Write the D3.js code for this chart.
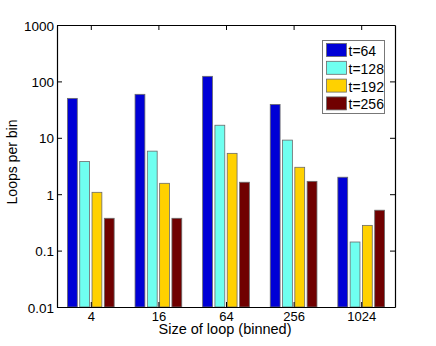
<!DOCTYPE html>
<html>
<head>
<meta charset="utf-8">
<script src="https://cdn.jsdelivr.net/npm/d3@7"></script>
<style>
  body { margin: 0; background: #fff; }
  svg { font-family: "Liberation Sans", Arial, Helvetica, sans-serif; }
</style>
</head>
<body>
<svg id="chart"></svg>
<script>
// data
const sizes = ["4", "16", "64", "256", "1024"];
const seriesNames = ["t=64", "t=128", "t=192", "t=256"];
const t64 = [50, 59, 123, 39, 2.0];
const t128 = [3.8, 5.8, 16.7, 9.1, 0.142];
const t192 = [1.08, 1.56, 5.3, 3.0, 0.28];
const t256 = [0.374, 0.374, 1.63, 1.69, 0.52];
const yTicks = [0.01, 0.1, 1, 10, 100, 1000];
const yTickLabels = ["0.01", "0.1", "1", "10", "100", "1000"];

const colors = ["#0000d6", "#6ffff0", "#ffd100", "#700000"];
const allSeries = [t64, t128, t192, t256];

const width = 436;
const height = 346;
const plotLeft = 57, plotRight = 395, plotTop = 25, plotBottom = 307;

const svg = d3.select("#chart")
    .attr("width", width)
    .attr("height", height);

// matlab style: groups at 1..5, xlim 0.5..5.5
const xScale = d3.scaleLinear()
    .domain([0.5, sizes.length + 0.5])
    .range([plotLeft, plotRight]);

const yScale = d3.scaleLog()
    .domain([0.01, 1000])
    .range([plotBottom, plotTop]);

// bar geometry in data units (like matlab's grouped bar)
const groupWidth = Math.min(0.8, seriesNames.length / (seriesNames.length + 1.5));
const barPitch = groupWidth / seriesNames.length;
const barWidth = barPitch * 0.8;

//Drawing the bars
allSeries.forEach((vals, s) => {
    svg.append("g")
        .selectAll("rect")
        .data(vals)
        .enter()
        .append("rect")
        .attr("x", (d, i) => {
            const c = (i + 1) + (s - (seriesNames.length - 1) / 2) * barPitch;
            return xScale(c - barWidth / 2);
        })
        .attr("width", xScale(barWidth) - xScale(0))
        .attr("y", (d) => yScale(d))
        .attr("height", (d) => plotBottom - yScale(d))
        .attr("fill", colors[s])
        .attr("stroke", "#6a6a6a")
        .attr("stroke-width", 0.8);
});

//Axes, ticks pointing inward like matlab
const tickPos = sizes.map((d, i) => i + 1);

const xAxis = d3.axisBottom(xScale)
    .tickValues(tickPos)
    .tickFormat((d, i) => sizes[i])
    .tickSizeInner(-5)
    .tickSizeOuter(0)
    .tickPadding(5);

const xAxisTop = d3.axisTop(xScale)
    .tickValues(tickPos)
    .tickFormat("")
    .tickSizeInner(-5)
    .tickSizeOuter(0);

const yAxis = d3.axisLeft(yScale)
    .tickValues(yTicks)
    .tickFormat((d, i) => yTickLabels[i])
    .tickSizeInner(-5)
    .tickSizeOuter(0)
    .tickPadding(3);

const yAxisRight = d3.axisRight(yScale)
    .tickValues(yTicks)
    .tickFormat("")
    .tickSizeInner(-5)
    .tickSizeOuter(0);

const styleAxis = (g) => {
    g.selectAll("path.domain").attr("stroke", "#000").attr("stroke-width", 1.2);
    g.selectAll(".tick line").attr("stroke", "#000").attr("stroke-width", 1);
    g.selectAll(".tick text").attr("fill", "#000").style("font-size", "13.5px");
    g.attr("font-family", null);
};

const xg = svg.append("g")
    .attr("transform", "translate(0," + plotBottom + ")")
    .call(xAxis)
    .call(styleAxis);
xg.selectAll(".tick text").style("font-size", "13px");

svg.append("g")
    .attr("transform", "translate(0," + plotTop + ")")
    .call(xAxisTop)
    .call(styleAxis);

const yg = svg.append("g")
    .attr("transform", "translate(" + plotLeft + ",0)")
    .call(yAxis)
    .call(styleAxis);
yg.selectAll(".tick text").attr("dy", "0.38em");

svg.append("g")
    .attr("transform", "translate(" + plotRight + ",0)")
    .call(yAxisRight)
    .call(styleAxis);

//Axis labels
svg.append("text")
    .attr("x", (plotLeft + plotRight) / 2 - 1)
    .attr("y", 334)
    .attr("text-anchor", "middle")
    .style("font-size", "14.5px")
    .text("Size of loop (binned)");

svg.append("text")
    .attr("transform", "translate(17," + 162 + ") rotate(-90)")
    .attr("text-anchor", "middle")
    .style("font-size", "14px")
    .text("Loops per bin");

//Legend
const legend = svg.append("g")
    .attr("transform", "translate(322.5,40.5)");

legend.append("rect")
    .attr("width", 62)
    .attr("height", 73)
    .attr("fill", "#fff")
    .attr("stroke", "#777")
    .attr("stroke-width", 1);

const rows = legend.selectAll("g.row")
    .data(seriesNames)
    .enter()
    .append("g")
    .attr("class", "row")
    .attr("transform", (d, i) => "translate(4," + (3 + i * 17.8) + ")");

rows.append("rect")
    .attr("width", 20)
    .attr("height", 13)
    .attr("fill", (d, i) => colors[i])
    .attr("stroke", "#6a6a6a")
    .attr("stroke-width", 0.8);

rows.append("text")
    .attr("x", 22)
    .attr("y", 12.5)
    .style("font-size", "14px")
    .text((d) => d);
</script>
</body>
</html>
